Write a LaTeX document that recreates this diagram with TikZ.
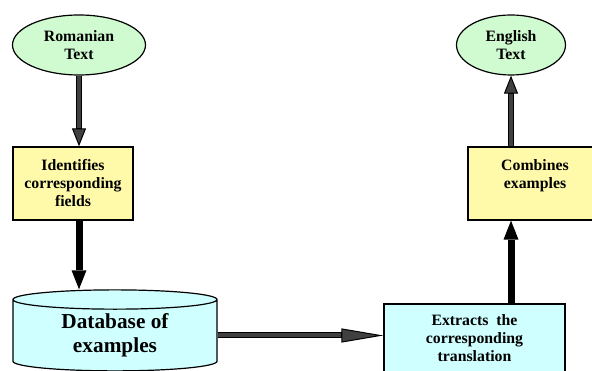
\documentclass[tikz,border=0pt]{standalone}
\usepackage{fontspec}
\setmainfont{Liberation Serif}
\usetikzlibrary{arrows.meta, shapes.geometric}
\definecolor{termgreen}{RGB}{208,250,208}
\definecolor{stepyellow}{RGB}{255,250,170}
\definecolor{storecyan}{RGB}{208,255,255}
\definecolor{arrowgray}{RGB}{64,64,64}

\begin{document}
\begin{tikzpicture}[
    x=1pt, y=-1pt,
    every node/.style={font=\fontsize{15.8}{18}\selectfont\bfseries, align=center, inner sep=0pt},
    term/.style={draw, line width=1.2pt, ellipse, fill=termgreen},
    box/.style={draw, line width=1.2pt, fill=stepyellow},
    store/.style={draw, line width=1.2pt, cylinder, shape border rotate=90, aspect=0.18, fill=storecyan},
    graylink/.style={line width=6pt, -{Triangle[length=#1, width=14pt, line width=1pt, fill=arrowgray]},
        postaction={draw=arrowgray, line width=4pt, -, shorten >=#1}},
    graylink/.default=18pt,
    blacklink/.style={line width=7pt, -{Triangle[length=19pt, width=15pt, line width=0pt]}}
]
    \useasboundingbox (0,0) rectangle (592,371);
    \clip (0,0) rectangle (592,371);

    \node[term, minimum width=133pt, minimum height=60pt] (ro) at (79,45) {Romanian\\Text};
    \node[term, minimum width=109pt, minimum height=60pt] (en) at (511,45) {English\\Text};
    \node[box, minimum width=120pt, minimum height=73pt] (ident) at (73,183.5) {Identifies\\corresponding\\fields};
    \node[box, minimum width=134pt, minimum height=73pt] (comb) at (535,183.5) {Combines\\examples\\\mbox{}};
    \node[box, fill=storecyan, minimum width=181pt, minimum height=68pt] (extr) at (474.5,338) {Extracts\ \ the\\corresponding\\translation};
    \node[store, minimum width=204pt, minimum height=81pt, font=\fontsize{21.3}{24}\selectfont\bfseries] (db) at (115,335.5) {Database of\\examples};

    \draw[graylink] (ro.south) -- (ro.south |- ident.north);
    \draw[blacklink] (ro.south |- ident.south) -- (ro.south |- db.north);
    \draw[graylink=42pt] (db.east) -- (extr.west |- db.east);
    \draw[blacklink] (en.south |- extr.north) -- (en.south |- comb.south);
    \draw[graylink] (en.south |- comb.north) -- (en.south);
\end{tikzpicture}
\end{document}
